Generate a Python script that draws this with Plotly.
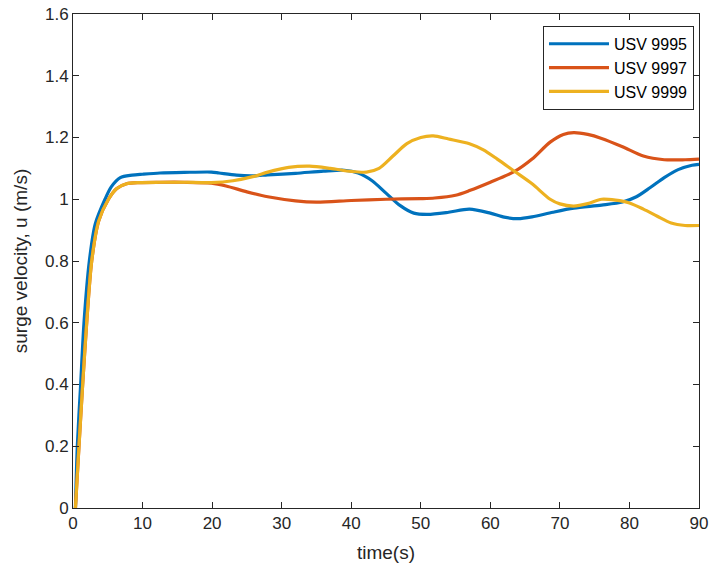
import plotly.graph_objects as go

# ---- data ----
t_9995 = [0.35, 0.62, 1.1, 1.58, 2.35, 3.2, 4.6, 5.5, 6.8, 8.5, 10, 12.5, 16, 19.9, 21, 23.5, 26, 28, 32, 36, 39, 41, 43, 45, 47, 49, 51, 54, 57, 60, 62, 64, 66, 69, 72, 76, 79, 81, 83, 85, 87, 89, 90]
u_9995 = [0.0, 0.2, 0.4, 0.6, 0.8, 0.92, 1.0, 1.04, 1.07, 1.078, 1.081, 1.085, 1.087, 1.088, 1.085, 1.078, 1.076, 1.079, 1.084, 1.091, 1.094, 1.085, 1.06, 1.02, 0.98, 0.955, 0.951, 0.958, 0.968, 0.955, 0.942, 0.937, 0.943, 0.958, 0.971, 0.981, 0.991, 1.008, 1.038, 1.07, 1.096, 1.11, 1.113]

t_9997 = [0.35, 0.86, 1.39, 1.97, 2.69, 3.7, 5.1, 6.3, 7.7, 9.5, 12.5, 16, 19.9, 22, 25, 28, 32, 35, 40, 45, 50, 52, 55, 57, 60, 63.5, 66, 68.6, 70.5, 72, 74, 76, 79, 82, 85, 88, 90]
u_9997 = [0.0, 0.2, 0.4, 0.6, 0.8, 0.93, 1.0, 1.035, 1.05, 1.054, 1.055, 1.055, 1.052, 1.043, 1.024, 1.008, 0.995, 0.991, 0.996, 1.0, 1.002, 1.004, 1.013, 1.028, 1.055, 1.09, 1.13, 1.185, 1.21, 1.216, 1.21, 1.197, 1.17, 1.14, 1.128, 1.128, 1.13]

t_9999 = [0.35, 0.86, 1.39, 1.97, 2.69, 3.7, 5.1, 6.3, 7.7, 9.5, 12.5, 16, 19.9, 23, 26, 28, 31, 34, 37, 40, 42.2, 44, 46, 48, 50, 51.8, 54, 57, 59, 61, 63.5, 66, 68.6, 70, 72, 74, 76, 78, 80, 82, 84, 86, 88, 90]
u_9999 = [0.0, 0.2, 0.4, 0.6, 0.8, 0.93, 1.0, 1.035, 1.05, 1.054, 1.055, 1.055, 1.054, 1.06, 1.074, 1.088, 1.103, 1.107, 1.1, 1.09, 1.088, 1.1, 1.14, 1.18, 1.2, 1.205, 1.195, 1.18, 1.16, 1.13, 1.09, 1.05, 1.0, 0.985, 0.978, 0.986, 1.0, 0.997, 0.988, 0.968, 0.945, 0.923, 0.915, 0.915]

names = ["USV 9995", "USV 9997", "USV 9999"]
colors = ["#0072BD", "#D95319", "#EDB120"]

x_ticks = [0, 10, 20, 30, 40, 50, 60, 70, 80, 90]
y_ticks = [0, 0.2, 0.4, 0.6, 0.8, 1.0, 1.2, 1.4, 1.6]
y_tick_text = ["0", "0.2", "0.4", "0.6", "0.8", "1", "1.2", "1.4", "1.6"]

fig = go.Figure()
for t, u, n, c in zip([t_9995, t_9997, t_9999], [u_9995, u_9997, u_9999], names, colors):
    fig.add_trace(go.Scatter(x=t, y=u, mode="lines", name=n,
                             line=dict(color=c, width=3.2, shape="spline", smoothing=0.8)))

font_family = "Liberation Sans, Arial, sans-serif"
axis_common = dict(showline=True, linecolor="#262626", linewidth=1, mirror="ticks",
                   ticks="inside", ticklen=6, tickcolor="#262626", showgrid=False,
                   zeroline=False, automargin=False,
                   tickfont=dict(family=font_family, size=17, color="#262626"))

fig.update_layout(
    width=712, height=573,
    margin=dict(l=73, r=13, t=14, b=65, autoexpand=False),
    paper_bgcolor="white", plot_bgcolor="white",
    font=dict(family=font_family, size=17, color="#262626"),
    xaxis=dict(range=[0, 90], tickvals=x_ticks,
               title=dict(text="time(s)", font=dict(size=19), standoff=13), **axis_common),
    yaxis=dict(range=[0, 1.6], tickvals=y_ticks, ticktext=y_tick_text,
               title=dict(text="surge velocity, u (m/s)", font=dict(size=19), standoff=12), **axis_common),
    legend=dict(x=0.992, y=0.976, xanchor="right", yanchor="top",
                bgcolor="white", bordercolor="#262626", borderwidth=1,
                font=dict(size=16, color="#000000"), tracegroupgap=0, itemwidth=60),
    showlegend=True,
)

fig.write_html("out.html")
